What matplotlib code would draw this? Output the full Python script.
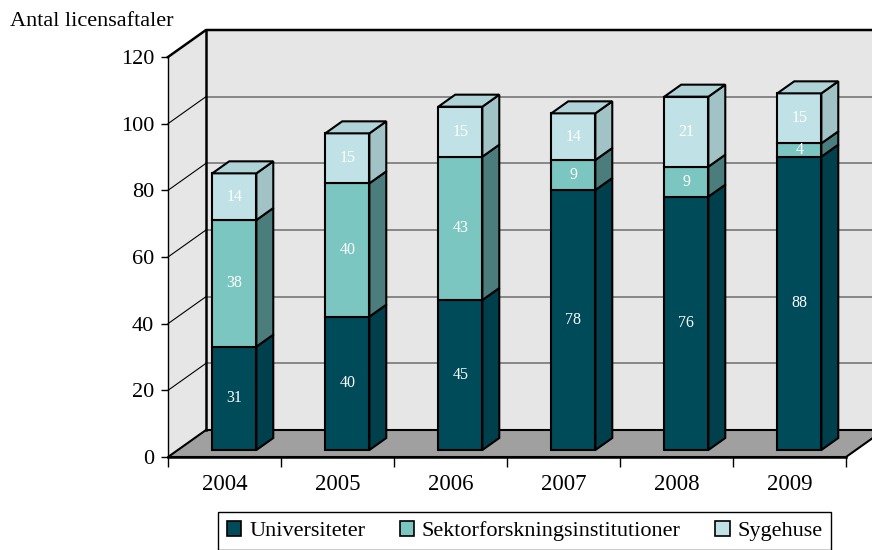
import matplotlib.pyplot as plt
from matplotlib.patches import Polygon, Patch

years = ["2004", "2005", "2006", "2007", "2008", "2009"]
universiteter = [31, 40, 45, 78, 76, 88]
sektor = [38, 40, 43, 9, 9, 4]
sygehuse = [14, 15, 15, 14, 21, 15]
names = ["Universiteter", "Sektorforskningsinstitutioner", "Sygehuse"]
yticks = [0, 20, 40, 60, 80, 100, 120]

front_cols = ["#004B5A", "#7CC6C2", "#C0E2E6"]
side_cols = ["#003F4C", "#4A7D7B", "#A2C3C5"]
top_cols = ["#0A5A66", "#8FCFCC", "#AFD3D7"]

plt.rcParams['font.family'] = ['Liberation Serif', 'DejaVu Serif']

fig = plt.figure(figsize=(8.72, 5.5), dpi=100)
ax = fig.add_axes([168 / 872, 93 / 550, 678 / 872, 400 / 550])
ax.set_xlim(0, len(years))
ax.set_ylim(0, 120)
ax.patch.set_visible(False)

# depth of the fake 3d box in data units
DX = 38 / 113
DY = 27 / (400 / 120)
f0, f1 = 7 / 27, 19 / 27
bw = 0.39
n = len(years)

# walls and floor
ax.add_patch(Polygon([(DX, DY), (n + DX, DY), (n + DX, 120 + DY), (DX, 120 + DY)],
                     closed=True, fc="#E6E6E6", ec="none", zorder=0, clip_on=False))
ax.add_patch(Polygon([(0, 0), (0, 120), (DX, 120 + DY), (DX, DY)],
                     closed=True, fc="#E6E6E6", ec="none", zorder=0, clip_on=False))
ax.add_patch(Polygon([(0, 0), (n, 0), (n + DX, DY), (DX, DY)],
                     closed=True, fc="#A0A0A0", ec="black", lw=1.5, zorder=1, clip_on=False))

for v in yticks[1:-1]:
    ax.plot([DX, n + DX], [v + DY, v + DY], color="#7F7F7F", lw=1.3, zorder=1, clip_on=False)
    ax.plot([0, DX], [v, v + DY], color="black", lw=0.8, zorder=1, clip_on=False)
ax.plot([0, DX, n + DX], [120, 120 + DY, 120 + DY], color="black", lw=1.8, zorder=2, clip_on=False)
ax.plot([DX, DX], [DY, 120 + DY], color="black", lw=1.8, zorder=2, clip_on=False)

# stacked bars
dxb = (f1 - f0) * DX
dyb = (f1 - f0) * DY
series = [universiteter, sektor, sygehuse]
for i in range(n):
    x0 = i + 0.5 - bw / 2 + f0 * DX
    bottom = f0 * DY
    for k, vals in enumerate(series):
        h = vals[i]
        ax.bar(x0, h, width=bw, bottom=bottom, align='edge', color=front_cols[k],
               edgecolor="black", lw=1.5, zorder=3, clip_on=False)
        ax.add_patch(Polygon([(x0 + bw, bottom), (x0 + bw + dxb, bottom + dyb),
                              (x0 + bw + dxb, bottom + h + dyb), (x0 + bw, bottom + h)],
                             closed=True, fc=side_cols[k], ec="black", lw=1.5, zorder=3,
                             clip_on=False))
        ax.text(x0 + bw / 2, bottom + h / 2, str(h), color="white", fontsize=11.5,
                ha="center", va="center", zorder=5)
        bottom += h
    ax.add_patch(Polygon([(x0, bottom), (x0 + bw, bottom), (x0 + bw + dxb, bottom + dyb),
                          (x0 + dxb, bottom + dyb)],
                         closed=True, fc=top_cols[-1], ec="black", lw=1.5, zorder=3,
                         clip_on=False))

# axes
for s in ["top", "right"]:
    ax.spines[s].set_visible(False)
ax.spines["left"].set_linewidth(1.0)
ax.spines["bottom"].set_linewidth(1.8)
ax.spines["left"].set_zorder(2)
ax.spines["bottom"].set_zorder(2)

ax.set_yticks(yticks)
ax.set_yticklabels([str(t) for t in yticks])
ax.tick_params(axis="y", direction="out", length=5, width=1, pad=5, labelsize=16)
ax.set_xticks([i + 0.5 for i in range(n)])
ax.set_xticklabels(years)
ax.set_xticks(range(n + 1), minor=True)
ax.tick_params(axis="x", which="major", length=0, pad=12, labelsize=16.5)
ax.tick_params(axis="x", which="minor", direction="out", length=7, width=1)

fig.text(10 / 872, 1 - 22 / 550, "Antal licensaftaler", fontsize=16, ha="left", va="center")

handles = [Patch(facecolor=front_cols[k], edgecolor="black", lw=1.2, label=names[k])
           for k in range(3)]
leg = fig.legend(handles=handles, loc="upper left", bbox_to_anchor=(218 / 872, 1 - 512 / 550),
                 ncol=3, fontsize=16, frameon=True, fancybox=False, framealpha=1,
                 edgecolor="black", handlelength=0.65, handleheight=0.65,
                 handletextpad=0.35, columnspacing=1.55, borderpad=0.4, borderaxespad=0)
leg.get_frame().set_linewidth(1.0)

fig.savefig("out.png", dpi=100)
